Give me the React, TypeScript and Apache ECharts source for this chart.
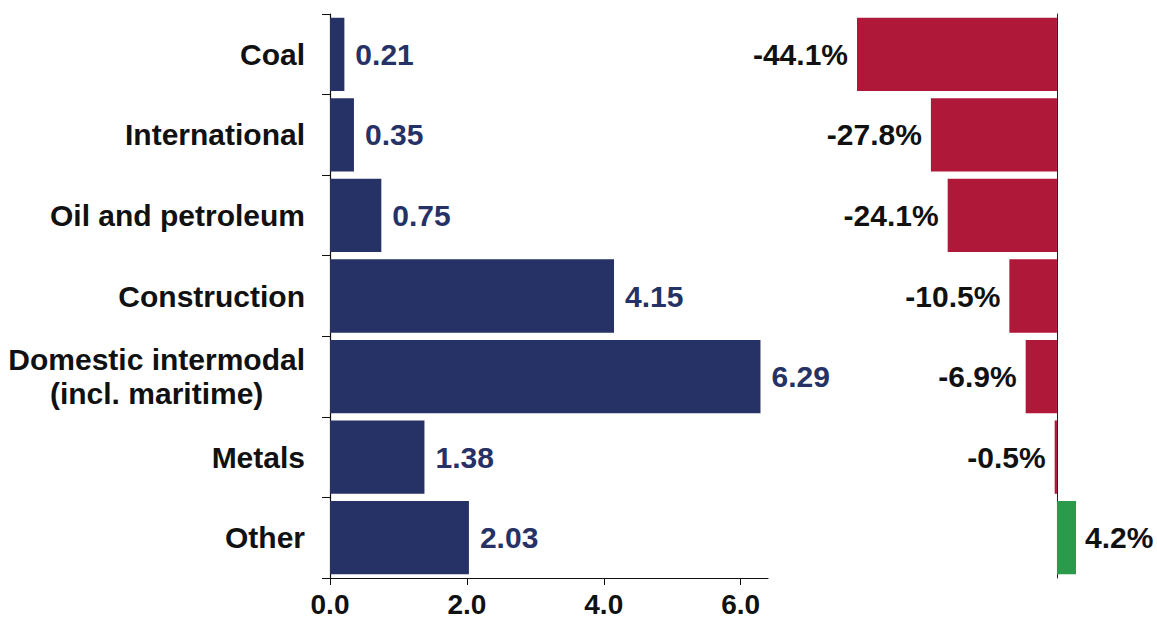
import React, { useEffect, useRef } from "react";
import * as echarts from "echarts";

const categories = [
  "Coal",
  "International",
  "Oil and petroleum",
  "Construction",
  "Domestic intermodal\n(incl. maritime)",
  "Metals",
  "Other",
];
const volumes = [0.21, 0.35, 0.75, 4.15, 6.29, 1.38, 2.03];
const changes = [-44.1, -27.8, -24.1, -10.5, -6.9, -0.5, 4.2];
const xTicks = [0, 2, 4, 6];

const FONT = '"Liberation Sans", Arial, Helvetica, sans-serif';
const NAVY = "#263166";
const RED = "#B01839";
const GREEN = "#2B9A4B";

function textWidth(s: string, font: string): number {
  const c = document.createElement("canvas").getContext("2d");
  if (!c) return s.length * 15;
  c.font = font;
  return c.measureText(s).width;
}

export default function App() {
  const ref = useRef<HTMLDivElement>(null);
  useEffect(() => {
    if (!ref.current) return;
    const chart = echarts.init(ref.current, null, { renderer: "svg" });
    const labelFont = "bold 30px " + FONT;
    const yData = categories.map((c) => {
      if (!c.includes("\n")) return c;
      const w = Math.max(...c.split("\n").map((s) => textWidth(s, labelFont)));
      return {
        value: c,
        textStyle: { align: "center", padding: [0, w, 0, 0] },
      };
    });
    chart.setOption({
      animation: false,
      backgroundColor: "#ffffff",
      grid: [
        { left: 330, top: 14, width: 438, height: 564, containLabel: false },
        { left: 857, top: 14, width: 219, height: 564, containLabel: false },
      ],
      xAxis: [
        {
          gridIndex: 0,
          type: "value",
          min: 0,
          max: 6.4,
          splitLine: { show: false },
          axisLine: { show: true, lineStyle: { color: "#111", width: 1.2 } },
          axisTick: {
            show: true,
            length: 7,
            customValues: xTicks,
            lineStyle: { color: "#111" },
          },
          axisLabel: {
            customValues: xTicks,
            formatter: (v: number) => v.toFixed(1),
            color: "#111",
            fontFamily: FONT,
            fontWeight: "bold",
            fontSize: 28,
            margin: 12,
          },
        },
        {
          gridIndex: 1,
          type: "value",
          min: -44.1,
          max: 4.2,
          show: false,
        },
      ],
      yAxis: [
        {
          gridIndex: 0,
          type: "category",
          data: yData,
          inverse: true,
          axisLine: { show: true, lineStyle: { color: "#111", width: 1.2 } },
          axisTick: { show: true, length: 8, lineStyle: { color: "#111" } },
          axisLabel: {
            color: "#111",
            fontFamily: FONT,
            fontWeight: "bold",
            fontSize: 30,
            lineHeight: 34,
            margin: 25,
            align: "right",
          },
        },
        {
          gridIndex: 1,
          type: "category",
          data: categories,
          inverse: true,
          axisLine: { show: true, onZero: true, lineStyle: { color: "#222", width: 1 } },
          axisTick: { show: false },
          axisLabel: { show: false },
        },
      ],
      series: [
        {
          type: "bar",
          xAxisIndex: 0,
          yAxisIndex: 0,
          data: volumes,
          barCategoryGap: "9%",
          itemStyle: { color: NAVY },
          label: {
            show: true,
            position: "right",
            distance: 11,
            formatter: (p: any) => Number(p.value).toFixed(2),
            color: NAVY,
            fontFamily: FONT,
            fontWeight: "bold",
            fontSize: 30,
          },
        },
        {
          type: "bar",
          xAxisIndex: 1,
          yAxisIndex: 1,
          barCategoryGap: "9%",
          data: changes.map((v) => ({
            value: v,
            itemStyle: { color: v < 0 ? RED : GREEN },
            label: { position: v < 0 ? "left" : "right" },
          })),
          label: {
            show: true,
            distance: 9,
            formatter: (p: any) => Number(p.value).toFixed(1) + "%",
            color: "#111",
            fontFamily: FONT,
            fontWeight: "bold",
            fontSize: 30,
          },
        },
      ],
    });
    return () => chart.dispose();
  }, []);
  return (
    <div
      ref={ref}
      style={{ position: "absolute", left: 0, top: 0, width: 1157, height: 630 }}
    />
  );
}
